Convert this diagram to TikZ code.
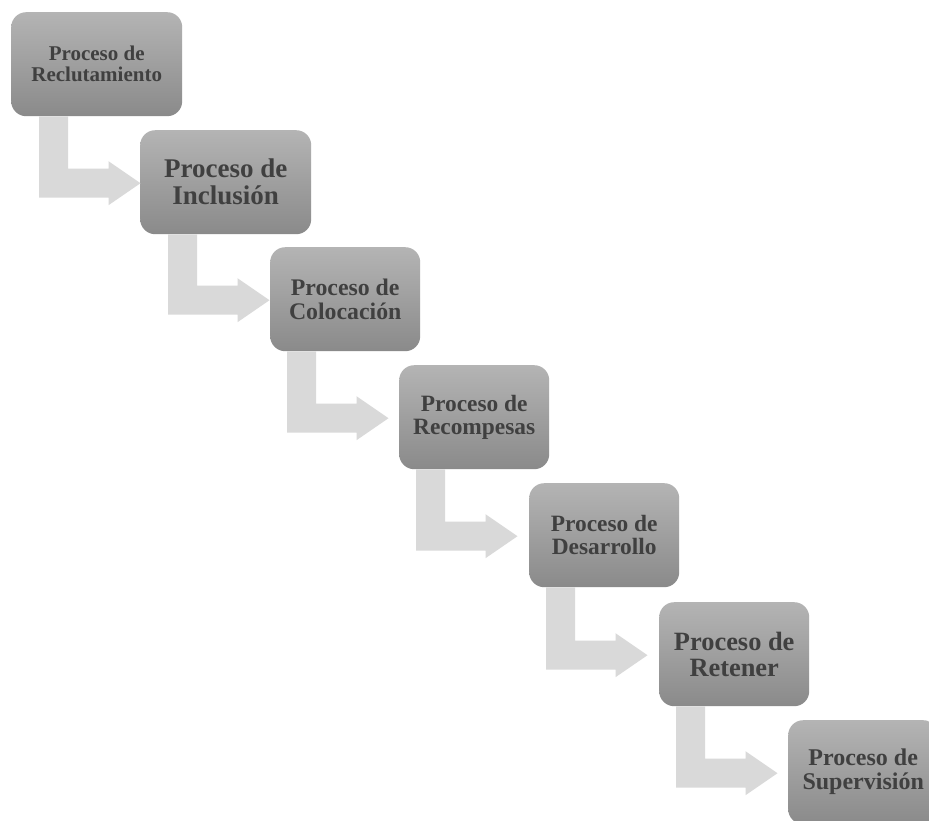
\documentclass[tikz,border=0pt]{standalone}
\usepackage{fontspec}
\setmainfont{Liberation Serif}
\usetikzlibrary{calc}

\definecolor{boxtop}{RGB}{180,180,180}
\definecolor{boxbottom}{RGB}{138,138,138}
\definecolor{boxtext}{RGB}{64,64,64}
\definecolor{arrowfill}{RGB}{217,217,217}

\tikzset{
  stage/.style={rectangle, rounded corners=15pt, top color=boxtop,
    bottom color=boxbottom, draw=none, minimum height=104pt,
    inner sep=0pt, anchor=north west, align=center, text=boxtext},
  wide/.style={minimum width=171pt},
  narrow/.style={minimum width=150pt},
  bendarrow/.style={fill=arrowfill, draw=none},
}
\newcommand{\stagefont}[1]{\bfseries\fontsize{#1}{#1}\selectfont}

\begin{document}
\begin{tikzpicture}[x=1pt,y=-1pt]
  \clip (0,0) rectangle (929,820);
  \fill[white] (0,0) rectangle (929,820);

  % process stages, stepping down to the right
  \node[stage, wide,   font=\stagefont{21}]   (b1) at (11,12)   {Proceso de\\Reclutamiento};
  \node[stage, wide,   font=\stagefont{27}]   (b2) at (140,130) {Proceso de\\Inclusión};
  \node[stage, narrow, font=\stagefont{23.8}] (b3) at (270,247) {Proceso de\\Colocación};
  \node[stage, narrow, font=\stagefont{23.4}] (b4) at (399,365) {Proceso de\\Recompesas};
  \node[stage, narrow, font=\stagefont{23.4}] (b5) at (529,483) {Proceso de\\Desarrollo};
  \node[stage, narrow, font=\stagefont{26.4}] (b6) at (659,602) {Proceso de\\Retener};
  \node[stage, narrow, font=\stagefont{24}]   (b7) at (788,720) {Proceso de\\Supervisión};

  % bent arrows: down out of one stage, then right towards the next
  \foreach \i/\j/\o in {1/2/28pt, 2/3/28pt, 3/4/17pt, 4/5/17pt, 5/6/17pt, 6/7/17pt} {
    \fill[bendarrow] let \p1=(b\i.south west), \p3=($(b\j.west)+(0,1)$) in
      ({\x1+\o},\y1) -- ({\x1+\o+29pt},\y1)
      -- ({\x1+\o+29pt},{\y3+14.5pt}) -- ({\x1+\o+69.5pt},{\y3+14.5pt})
      -- ({\x1+\o+69.5pt},{\y3+22pt}) -- ({\x1+\o+101.5pt},\y3)
      -- ({\x1+\o+69.5pt},{\y3-22pt}) -- ({\x1+\o+69.5pt},{\y3-14.5pt})
      -- ({\x1+\o},{\y3-14.5pt}) -- cycle;
  }
\end{tikzpicture}
\end{document}
